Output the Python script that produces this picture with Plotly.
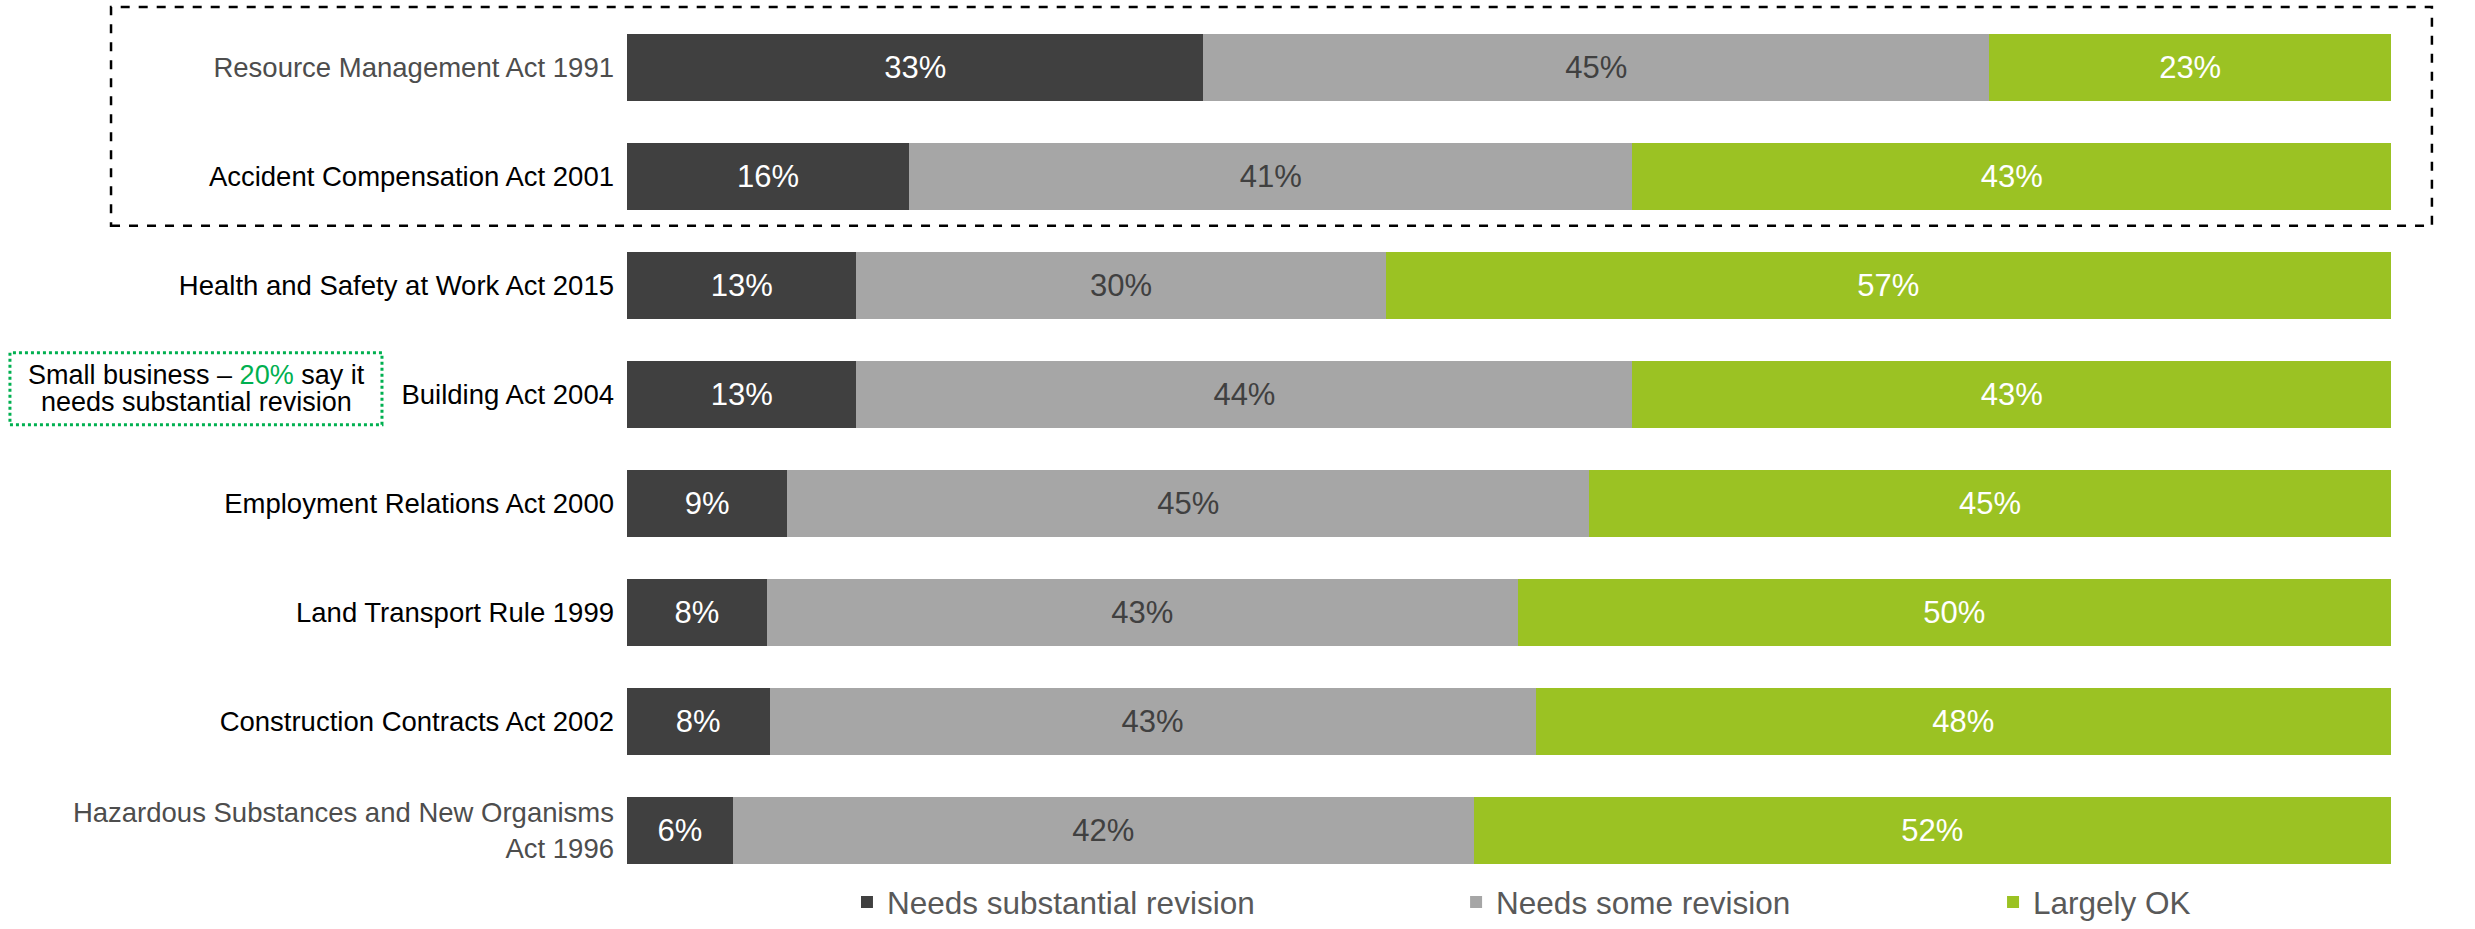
import plotly.graph_objects as go

# Survey categories, listed top to bottom
acts = [
    "Resource Management Act 1991",
    "Accident Compensation Act 2001",
    "Health and Safety at Work Act 2015",
    "Building Act 2004",
    "Employment Relations Act 2000",
    "Land Transport Rule 1999",
    "Construction Contracts Act 2002",
    "Hazardous Substances and New Organisms Act 1996",
]
tick_text = [
    "Resource Management Act 1991",
    "Accident Compensation Act 2001",
    "Health and Safety at Work Act 2015",
    "Building Act 2004",
    "Employment Relations Act 2000",
    "Land Transport Rule 1999",
    "Construction Contracts Act 2002",
    "Hazardous Substances and New Organisms<br>Act 1996",
]
tick_colors = ["#4d4d4d", "#000000", "#000000", "#000000",
               "#000000", "#000000", "#000000", "#4d4d4d"]

# Share of respondents per response (%)
substantial = [33, 16, 13, 13, 9, 8, 8, 6]
some = [45, 41, 30, 44, 45, 43, 43, 42]
largely_ok = [23, 43, 57, 43, 45, 50, 48, 52]

series = [
    ("Needs substantial revision", substantial, "#404040", "#ffffff", "legend", 0.1247),
    ("Needs some revision", some, "#a6a6a6", "#404040", "legend2", 0.470),
    ("Largely OK", largely_ok, "#9bc223", "#ffffff", "legend3", 0.7744),
]

FONT = "Liberation Sans, Arial, sans-serif"
LABEL_SIZE = 27.5

fig = go.Figure()
for name, vals, color, txtcolor, leg, _ in series:
    fig.add_trace(go.Bar(
        y=acts, x=vals, name=name, orientation="h",
        marker=dict(color=color, line=dict(width=0)),
        text=[f"{v}%" for v in vals],
        textposition="inside", insidetextanchor="middle",
        textfont=dict(size=31, color=txtcolor, family=FONT),
        constraintext="none",
        legend=leg,
        hoverinfo="skip",
    ))

legend_common = dict(
    orientation="h", yref="container", yanchor="bottom", y=0,
    xanchor="left",
    font=dict(size=31.5, color="#595959", family=FONT),
    bgcolor="rgba(0,0,0,0)", itemclick=False,
)
legends = {}
for _, _, _, _, leg, lx in series:
    legends[leg] = dict(legend_common, x=lx)

fig.update_layout(
    width=2475, height=929,
    barmode="stack", barnorm="percent", bargap=0.386,
    plot_bgcolor="white", paper_bgcolor="white",
    margin=dict(l=627, r=84, t=13, b=43.5, autoexpand=False),
    font=dict(family=FONT, size=LABEL_SIZE, color="#000000"),
    showlegend=True,
    xaxis=dict(range=[0, 100], visible=False, fixedrange=True),
    yaxis=dict(
        categoryorder="array", categoryarray=acts, autorange="reversed",
        tickmode="array", tickvals=acts,
        ticktext=[f'<span style="color:{c}">{t}</span>' for t, c in zip(tick_text, tick_colors)],
        tickfont=dict(size=LABEL_SIZE, family=FONT),
        ticklabelstandoff=12, showline=False, showgrid=False, zeroline=False,
        ticks="", fixedrange=True, automargin=False,
    ),
    **legends,
)

# Dashed frame around the first two acts
fig.add_shape(type="rect", xref="paper", yref="paper",
              x0=-0.2925, x1=1.0232, y0=0.7559, y1=1.0069,
              line=dict(color="#000000", width=2.5, dash="dash"),
              fillcolor="rgba(0,0,0,0)", layer="above")

# Small-business callout beside the Building Act row
fig.add_shape(type="rect", xref="paper", yref="paper",
              x0=-0.3498, x1=-0.1389, y0=0.5278, y1=0.6103,
              line=dict(color="#00b050", width=3, dash="dot"),
              fillcolor="rgba(0,0,0,0)")
fig.add_annotation(xref="paper", yref="paper", x=-0.2443, y=0.5851,
                   text='Small business – <span style="color:#00b050">20%</span> say it',
                   showarrow=False, xanchor="center", yanchor="middle",
                   font=dict(size=27, color="#000000", family=FONT))
fig.add_annotation(xref="paper", yref="paper", x=-0.2443, y=0.5542,
                   text="needs substantial revision",
                   showarrow=False, xanchor="center", yanchor="middle",
                   font=dict(size=27, color="#000000", family=FONT))

fig.write_html("out.html")
